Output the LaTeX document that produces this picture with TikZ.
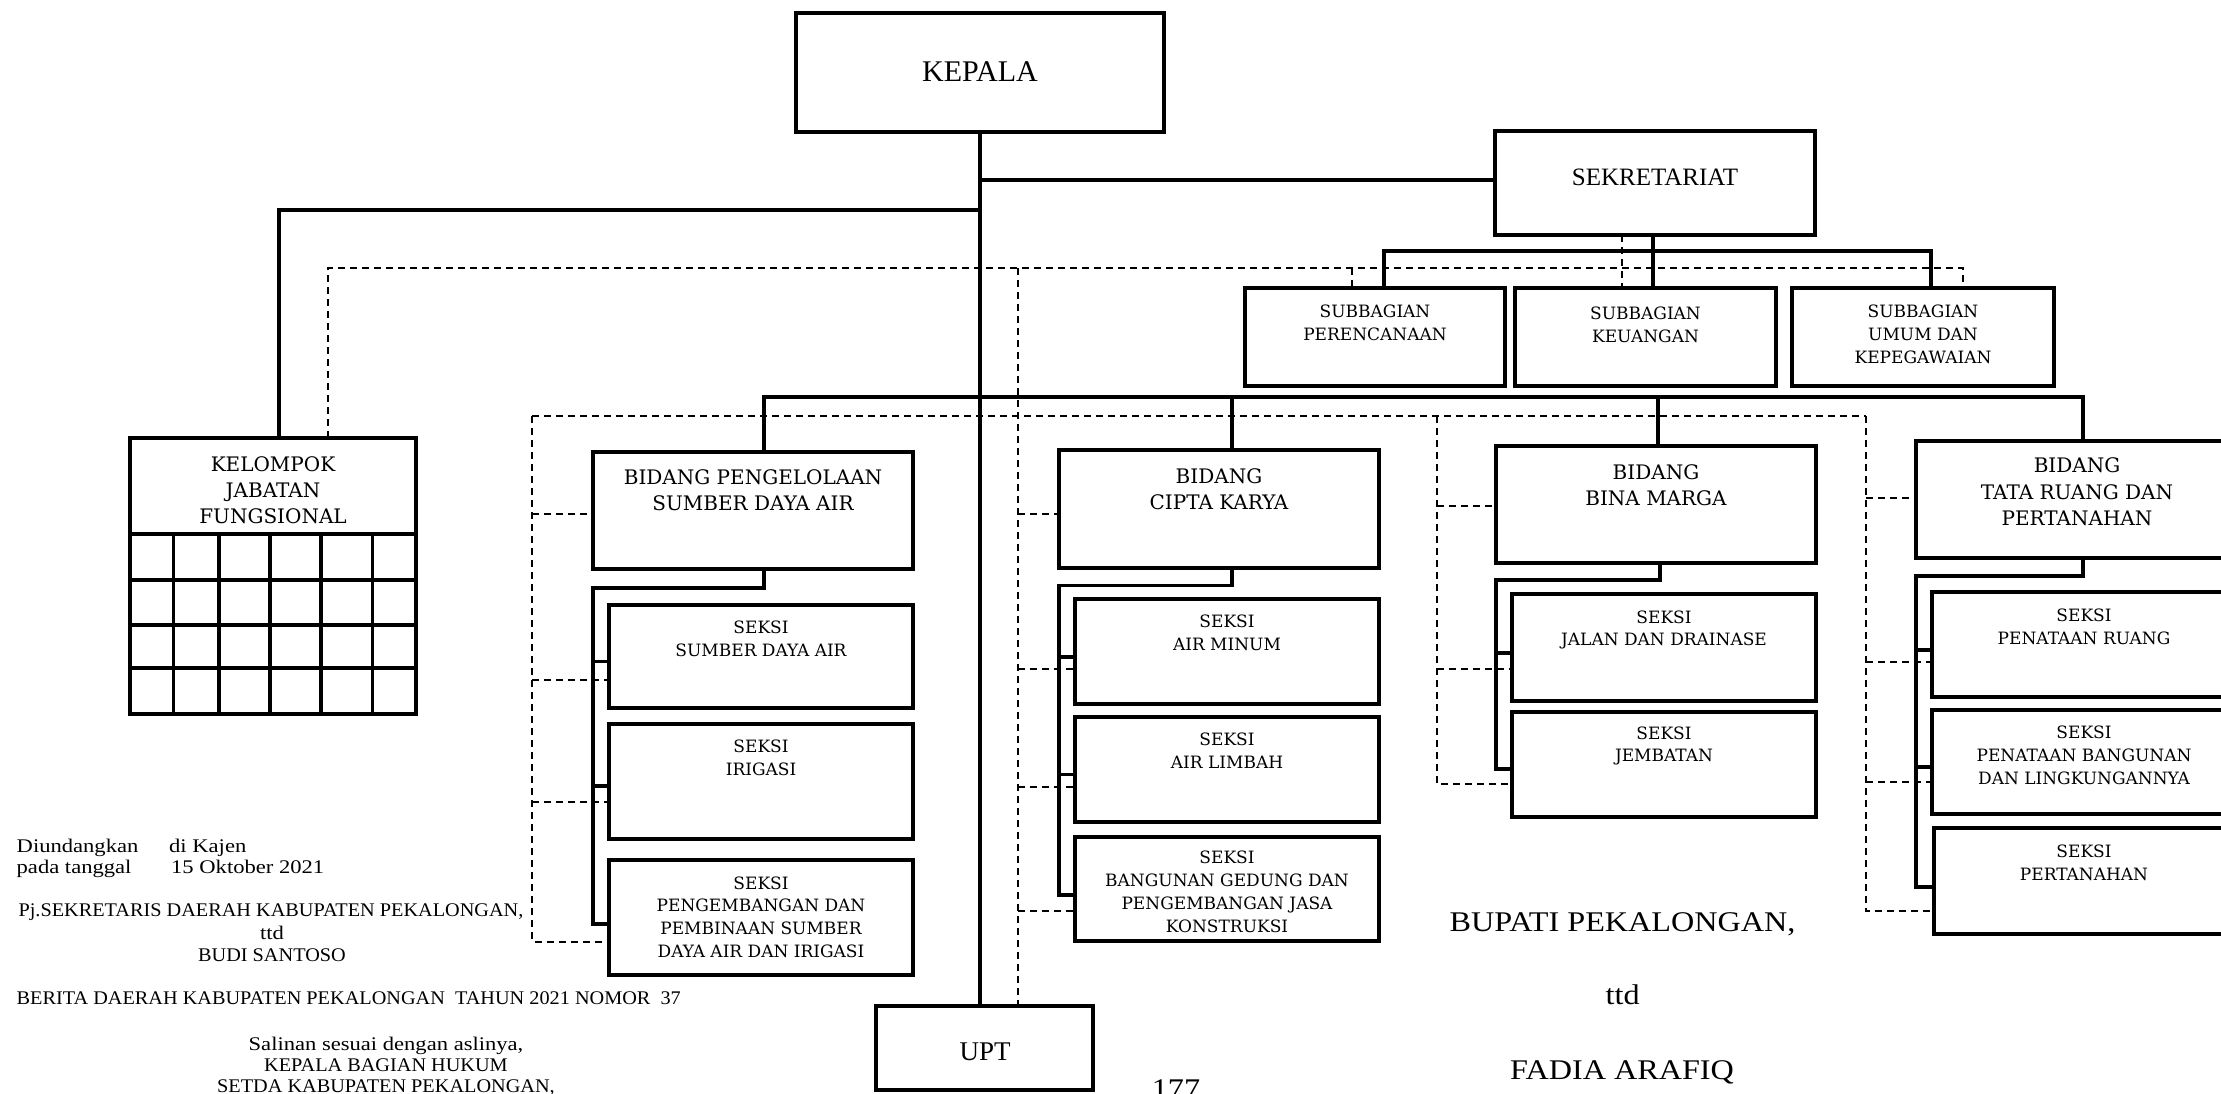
\documentclass[tikz,border=0pt]{standalone}
\usepackage{fontspec}
\setmainfont{Liberation Serif}
\newfontfamily\boxserif{DejaVu Serif}
\newfontfamily\wideserif[FakeStretch=1.13]{Liberation Serif}
\newfontfamily\capnote[FakeStretch=1.05]{Liberation Serif}
\newfontfamily\lownote[FakeStretch=1.17]{Liberation Serif}

% box given by its corners: name, x1, y1, x2, y2
\newcommand\orgbox[6][]{%
  \node[frame,#1,minimum width={#5-#3},minimum height={#6-#4}] (#2) at ({(#3+#5)/2},{(#4+#6)/2}) {};}
% dashed branch from a vertical spine to the left side of a box
\newcommand\dashto[3]{%
  \coordinate (dp) at ([yshift=#3pt]#2.west);
  \draw[dashline] (#1 |- dp) -- (dp);}
% solid branch from the spine of a bidang to one of its seksi
\newcommand\sektick[3]{%
  \coordinate (tp) at ([yshift=#3pt]#2.west);
  \draw[conn] (#1.west |- tp) -- (tp);}

\begin{document}
\begin{tikzpicture}[x=1pt,y=-1pt,
  frame/.style={draw, line width=4pt, inner sep=0pt, outer sep=0pt},
  conn/.style={line width=3.2pt},
  dashline/.style={line width=2pt, dash pattern=on 7pt off 5pt},
  btxt/.style={font=\boxserif\fontsize{20}{26.5}\selectfont, align=center, inner sep=0pt},
  stxt/.style={font=\boxserif\fontsize{17}{22.8}\selectfont, align=center, inner sep=0pt},
  ntxt/.style={font=\capnote\fontsize{19.3}{22}\selectfont, inner sep=0pt},
  ltxt/.style={font=\lownote\fontsize{19.3}{22}\selectfont, inner sep=0pt},
  bigtxt/.style={font=\wideserif\fontsize{28.5}{34}\selectfont, inner sep=0pt, anchor=base},
]
\useasboundingbox (0,0) rectangle (2221,1093);
\clip (0,0) rectangle (2221,1093);

% ---------- boxes ----------
\orgbox[line width=3.5pt]{kepala}{796}{13}{1164}{132}
\orgbox[line width=3.5pt]{sek}{1495}{131}{1815}{235}
\orgbox[line width=3.5pt]{kjf}{130}{438}{416}{714}
\orgbox{sp}{1245}{288}{1505}{386}
\orgbox{sk}{1515}{288}{1776}{386}
\orgbox{su}{1792}{288}{2054}{386}
\orgbox{b1}{593}{452}{913}{569}
\orgbox{s11}{609}{605}{913}{708}
\orgbox{s12}{609}{724}{913}{839}
\orgbox{s13}{609}{860}{913}{975}
\orgbox{b2}{1059}{450}{1379}{568}
\orgbox{s21}{1075}{599}{1379}{704}
\orgbox{s22}{1075}{717}{1379}{822}
\orgbox{s23}{1075}{837}{1379}{941}
\orgbox{b3}{1496}{446}{1816}{563}
\orgbox{s31}{1512}{594}{1816}{701}
\orgbox{s32}{1512}{712}{1816}{817}
\orgbox{b4}{1916}{441}{2238}{558}
\orgbox{s41}{1932}{592}{2236}{697}
\orgbox{s42}{1932}{710}{2236}{814}
\orgbox{s43}{1934}{828}{2236}{934}
\orgbox[line width=3.5pt]{upt}{876}{1006}{1093}{1090}

% grid of the kelompok jabatan fungsional
\foreach \yy in {534,580,625,668} \draw[line width=3.5pt] (130,\yy) -- (416,\yy);
\foreach \xx in {173.5,219,270,321,372.5} \draw[line width=3.5pt] (\xx,534) -- (\xx,714);

% ---------- box texts ----------
\node[font=\fontsize{30}{36}\selectfont, inner sep=0pt] (kepala-t) at (980,72) {KEPALA};
\node[font=\fontsize{25}{30}\selectfont, inner sep=0pt] (sek-t) at (1655,177) {SEKRETARIAT};
\node[btxt, font=\boxserif\fontsize{20}{26}\selectfont] (kjf-t) at (273,490.5) {KELOMPOK\\JABATAN\\FUNGSIONAL};
\node[stxt] (sp-t) at (1375,322.5) {SUBBAGIAN\\PERENCANAAN};
\node[stxt] (sk-t) at (1645.5,324.5) {SUBBAGIAN\\KEUANGAN};
\node[stxt] (su-t) at (1923,334.5) {SUBBAGIAN\\UMUM DAN\\KEPEGAWAIAN};
\node[btxt] (b1-t) at (753,490) {BIDANG PENGELOLAAN\\SUMBER DAYA AIR};
\node[stxt] (s11-t) at (761,639) {SEKSI\\SUMBER DAYA AIR};
\node[stxt] (s12-t) at (761,758) {SEKSI\\IRIGASI};
\node[stxt] (s13-t) at (761,917) {SEKSI\\PENGEMBANGAN DAN\\PEMBINAAN SUMBER\\DAYA AIR DAN IRIGASI};
\node[btxt] (b2-t) at (1219,489) {BIDANG\\CIPTA KARYA};
\node[stxt] (s21-t) at (1227,633) {SEKSI\\AIR MINUM};
\node[stxt] (s22-t) at (1227,750.5) {SEKSI\\AIR LIMBAH};
\node[stxt] (s23-t) at (1227,891.6) {SEKSI\\BANGUNAN GEDUNG DAN\\PENGEMBANGAN JASA\\KONSTRUKSI};
\node[btxt] (b3-t) at (1656,485) {BIDANG\\BINA MARGA};
\node[stxt] (s31-t) at (1664,630) {SEKSI\\JALAN DAN DRAINASE};
\node[stxt] (s32-t) at (1664,746) {SEKSI\\JEMBATAN};
\node[btxt] (b4-t) at (2077,492) {BIDANG\\TATA RUANG DAN\\PERTANAHAN};
\node[stxt] (s41-t) at (2084,627) {SEKSI\\PENATAAN RUANG};
\node[stxt] (s42-t) at (2084,755) {SEKSI\\PENATAAN BANGUNAN\\DAN LINGKUNGANNYA};
\node[stxt] (s43-t) at (2084,863) {SEKSI\\PERTANAHAN};
\node[font=\fontsize{27}{32}\selectfont, inner sep=0pt] (upt-t) at (985,1052) {UPT};

% ---------- solid lines of command ----------
\draw[conn] (kepala.south) -- (kepala.south |- upt.north);
\coordinate (lvlsek) at (0,180);
\draw[conn] (kepala.south |- lvlsek) -- (sek.west |- lvlsek);
\coordinate (lvlkjf) at (0,210);
\coordinate (kjfT) at ([xshift=6pt]kjf.north);
\draw[conn] (kepala.south |- lvlkjf) -- (kjfT |- lvlkjf) -- (kjfT);

% sekretariat and its subbagian
\coordinate (sekB) at ([xshift=-2pt]sek.south);
\draw[conn] (sekB) -- (sekB |- sk.north);
\coordinate (lvlsub) at (0,251);
\coordinate (spT) at ([xshift=9pt]sp.north);
\coordinate (suT) at ([xshift=8pt]su.north);
\draw[conn] (spT) -- (spT |- lvlsub) -- (suT |- lvlsub) -- (suT);

% bus to the four bidang
\coordinate (lvlbid) at (0,397);
\coordinate (b1T) at ([xshift=11pt]b1.north);
\coordinate (b2T) at ([xshift=13pt]b2.north);
\coordinate (b3T) at ([xshift=2pt]b3.north);
\coordinate (b4T) at ([xshift=6pt]b4.north);
\draw[conn] (b1T) -- (b1T |- lvlbid) -- (b4T |- lvlbid) -- (b4T);
\draw[conn] (b2T |- lvlbid) -- (b2T);
\draw[conn] (b3T |- lvlbid) -- (b3T);

% bidang pengelolaan sumber daya air
\coordinate (b1B) at ([xshift=11pt]b1.south);
\coordinate (t13) at ([yshift=-6.5pt]s13.west);
\draw[conn] (b1B) -- ++(0,19) -| (b1.west |- t13) -- (t13);
\sektick{b1}{s11}{-5}
\sektick{b1}{s12}{-4.5}

% bidang cipta karya
\coordinate (b2B) at ([xshift=13pt]b2.south);
\coordinate (t23) at ([yshift=-6pt]s23.west);
\draw[conn] (b2B) -- ++(0,17.6) -| (b2.west |- t23) -- (t23);
\sektick{b2}{s21}{-5.5}
\sektick{b2}{s22}{-4.7}

% bidang bina marga
\coordinate (b3B) at ([xshift=4pt]b3.south);
\coordinate (t32) at ([yshift=-4.5pt]s32.west);
\draw[conn] (b3B) -- ++(0,17) -| (b3.west |- t32) -- (t32);
\sektick{b3}{s31}{-5.5}

% bidang tata ruang dan pertanahan
\coordinate (b4B) at ([xshift=6pt]b4.south);
\coordinate (t43) at ([yshift=-6pt]s43.west);
\draw[conn] (b4B) -- ++(0,18) -| (b4.west |- t43) -- (t43);
\sektick{b4}{s41}{-5.5}
\sektick{b4}{s42}{-5}

% ---------- dashed lines of coordination ----------
\coordinate (lvldash) at (0,268);
\coordinate (kjfD) at ([xshift=55pt]kjf.north);
\coordinate (suD) at ([xshift=40pt]su.north);
\coordinate (spD) at ([xshift=-23pt]sp.north);
\coordinate (sekD) at ([xshift=-33pt]sek.south);
\coordinate (uptD) at ([xshift=33.5pt]upt.north);
\draw[dashline] (kjfD) -- (kjfD |- lvldash) -- (suD |- lvldash) -- (suD);
\draw[dashline] (spD |- lvldash) -- (spD);
\draw[dashline] (sekD) -- (sekD |- sk.north);
\draw[dashline] (uptD |- lvldash) -- (uptD);

\coordinate (d1) at (532,416);
\coordinate (d3) at (1437,416);
\coordinate (d4) at (1866,416);
\draw[dashline] (d1) -- (d4);

\coordinate (e13) at ([yshift=-24pt]s13.west);
\draw[dashline] (d1) |- (e13);
\dashto{d1}{b1}{-3.5}
\dashto{d1}{s11}{-23}
\dashto{d1}{s12}{-20.5}

\dashto{uptD}{b2}{-5.4}
\dashto{uptD}{s21}{-17}
\dashto{uptD}{s22}{-17}
\dashto{uptD}{s23}{-22}

\coordinate (e32) at ([yshift=-19.5pt]s32.west);
\draw[dashline] (d3) |- (e32);
\dashto{d3}{b3}{-1.5}
\dashto{d3}{s31}{-21.5}

\coordinate (e43) at ([yshift=-30pt]s43.west);
\draw[dashline] (d4) |- (e43);
\dashto{d4}{b4}{1.5}
\dashto{d4}{s41}{-17.5}
\dashto{d4}{s42}{-20}

% ---------- notes below the chart ----------
\node[ltxt, anchor=base west] (n1) at (16.5,852.5) {Diundangkan};
\node[ltxt, anchor=base west] (n2) at (169,852.5) {di Kajen};
\node[ltxt, anchor=base west] (n3) at (16.5,873) {pada tanggal};
\node[ltxt, anchor=base west] (n4) at (171,873) {15 Oktober 2021};
\node[ntxt, anchor=base] (n5) at (271,916.5) {Pj.SEKRETARIS DAERAH KABUPATEN PEKALONGAN,};
\node[ltxt, anchor=base] (n6) at (272,939) {ttd};
\node[ntxt, anchor=base] (n7) at (272,961.5) {BUDI SANTOSO};
\node[ntxt, anchor=base west] (n8) at (16.5,1004.5) {BERITA DAERAH KABUPATEN PEKALONGAN\ \ TAHUN 2021 NOMOR\ \ 37};
\node[ltxt, anchor=base] (n9) at (386,1050.5) {Salinan sesuai dengan aslinya,};
\node[ntxt, anchor=base] (n10) at (386,1071) {KEPALA BAGIAN HUKUM};
\node[ntxt, anchor=base] (n11) at (386,1092) {SETDA KABUPATEN PEKALONGAN,};

\node[bigtxt] (bup) at (1622.5,931) {BUPATI PEKALONGAN,};
\node[bigtxt] (bupttd) at (1622.7,1004) {ttd};
\node[bigtxt] (bupname) at (1622,1079) {FADIA ARAFIQ};
\node[bigtxt] (pageno) at (1176,1098) {177};
\end{tikzpicture}
\end{document}
